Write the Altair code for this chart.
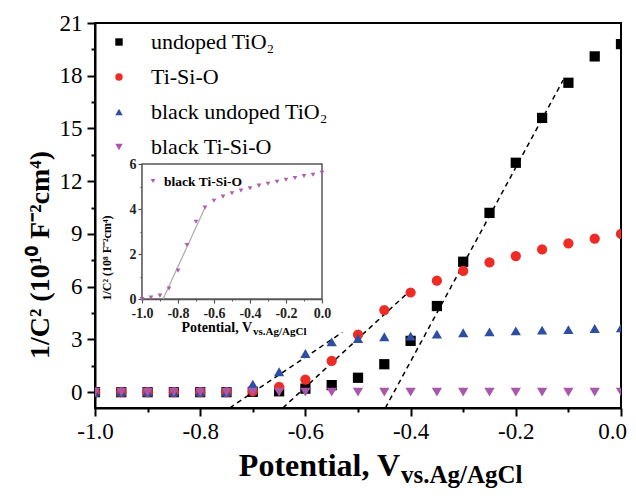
import altair as alt
import pandas as pd

# ---------------- data ----------------
potential = [-1.0, -0.95, -0.9, -0.85, -0.8, -0.75, -0.7, -0.65, -0.6, -0.55, -0.5,
             -0.45, -0.4, -0.35, -0.3, -0.25, -0.2, -0.15, -0.1, -0.05, 0.0]
undoped_tio2 = [0.0, 0.0, 0.0, 0.0, 0.0, 0.0, 0.02, 0.05, 0.2, 0.4, 0.82,
                1.59, 2.92, 4.9, 7.42, 10.2, 13.05, 15.6, 17.6, 19.1, 19.8]
ti_si_o = [0.0, 0.0, 0.0, 0.0, 0.0, 0.0, 0.05, 0.3, 0.72, 1.78, 3.28,
           4.67, 5.67, 6.34, 6.9, 7.38, 7.74, 8.12, 8.46, 8.73, 9.0]
black_undoped_tio2 = [0.0, 0.0, 0.0, 0.0, 0.0, 0.0, 0.46, 1.16, 2.2, 2.86, 3.05,
                      3.15, 3.19, 3.3, 3.38, 3.43, 3.49, 3.53, 3.56, 3.62, 3.66]
black_ti_si_o = [0.0, 0.0, 0.0, 0.0, 0.0, 0.0, 0.0, 0.0, 0.0, 0.0, 0.0,
                 0.0, 0.0, 0.0, 0.0, 0.0, 0.0, 0.0, 0.0, 0.0, 0.0]

series_names = ["undoped TiO₂", "Ti-Si-O", "black undoped TiO₂", "black Ti-Si-O"]
series_colors = ["#000000", "#ee2b24", "#2e4ea3", "#a857ab"]
series_shapes = ["square", "circle", "triangle-up", "triangle-down"]

fit_id = ["a", "a", "b", "b", "c", "c"]
fit_x = [-0.448, -0.11, -0.643, -0.40, -0.744, -0.53]
fit_y = [-0.9, 17.75, -0.9, 5.8, -0.9, 3.4]

inset_values = [0.0, 0.06, 0.15, 0.47, 1.26, 2.4, 3.43, 4.06, 4.37, 4.55, 4.7,
                4.82, 4.92, 5.04, 5.12, 5.21, 5.3, 5.38, 5.47, 5.52, 5.61]
inset_fit_x = [-0.883, -0.65]
inset_fit_y = [0.0, 4.06]

x_major = [-1.0, -0.8, -0.6, -0.4, -0.2, 0.0]
x_minor = [-0.9, -0.7, -0.5, -0.3, -0.1]
y_major = [0, 3, 6, 9, 12, 15, 18, 21]
y_minor = [1.5, 4.5, 7.5, 10.5, 13.5, 16.5, 19.5]
inset_y_major = [0, 2, 4, 6]
inset_y_minor = [1, 3, 5]

title_x_main = "Potential, V"
title_x_sub = "vs.Ag/AgCl"
title_y = "1/C² (10¹⁰ F⁻²cm⁴)"
inset_title_y = "1/C² (10⁸ F⁻²cm⁴)"
inset_legend_label = "black Ti-Si-O"

# ---------------- layout ----------------
W, H = 526, 385
FONT = "Liberation Serif"
IN_L, IN_R, IN_T, IN_B = 47, 227, 141, 276

rows = []
for name, vals in zip(series_names, [undoped_tio2, ti_si_o, black_undoped_tio2, black_ti_si_o]):
    for xv, yv in zip(potential, vals):
        rows.append({"x": xv, "y": yv, "series": name})
main_df = pd.DataFrame(rows)
fit_df = pd.DataFrame({"id": fit_id, "x": fit_x, "y": fit_y})
inset_df = pd.DataFrame({"x": potential, "y": inset_values})
inset_fit_df = pd.DataFrame({"x": inset_fit_x, "y": inset_fit_y})
frame_df = pd.DataFrame({"x0": [-1.0], "x1": [0.0], "y0": [0.0], "y1": [6.0]})

mx = alt.Scale(domain=[-1.0, 0.0], range=[0, W], nice=False, zero=False)
my = alt.Scale(domain=[-0.9, 21], range=[H, 0], nice=False, zero=False)
ix = alt.Scale(domain=[-1.0, 0.0], range=[IN_L, IN_R], nice=False, zero=False)
iy = alt.Scale(domain=[0.0, 6.0], range=[IN_B, IN_T], nice=False, zero=False)

xlabel = "datum.value < 0 ? '-' + format(-datum.value, '.1f') : format(datum.value, '.1f')"

legend = alt.Legend(title=None, orient="none", legendX=13, legendY=8, padding=0,
                    labelFont=FONT, labelFontSize=22, labelColor="black", labelLimit=0,
                    symbolSize=55, symbolStrokeWidth=0, rowPadding=13, labelOffset=21)

points = alt.Chart(main_df).mark_point(filled=True, opacity=1, clip=True).encode(
    x=alt.X("x:Q", scale=mx, axis=alt.Axis(orient="bottom", values=x_major, labelExpr=xlabel,
                                             tickSize=8, title=None, labelFlush=False,
                                             labelOverlap=False, labelPadding=4,
                                             labelOffset={"condition": {"test": "datum.value == 0", "value": -9},
                                                          "value": 0})),
    y=alt.Y("y:Q", scale=my, axis=alt.Axis(orient="left", values=y_major, format="d",
                                             tickSize=8, title=None, labelFlush=False,
                                             labelOverlap=False, labelPadding=5)),
    color=alt.Color("series:N", scale=alt.Scale(domain=series_names, range=series_colors), legend=legend),
    shape=alt.Shape("series:N", scale=alt.Scale(domain=series_names, range=series_shapes), legend=legend),
    size=alt.value(105),
)

minor = alt.Chart(pd.DataFrame({"x": [-0.5], "y": [10.0]})).mark_point(opacity=0).encode(
    x=alt.X("x:Q", scale=mx, axis=alt.Axis(orient="bottom", values=x_minor, tickSize=4,
                                             labels=False, domain=False, title=None)),
    y=alt.Y("y:Q", scale=my, axis=alt.Axis(orient="left", values=y_minor, tickSize=4,
                                             labels=False, domain=False, title=None)),
)

fits = alt.Chart(fit_df).mark_line(color="black", strokeDash=[5, 4], strokeWidth=1.5).encode(
    x=alt.X("x:Q", scale=mx, axis=None),
    y=alt.Y("y:Q", scale=my, axis=None),
    detail="id:N",
)

inset_axis_common = dict(title=None, tickColor="#555", domainColor="#555", domainWidth=1.5,
                         tickWidth=1.2, labelFont=FONT, labelFontSize=14, labelColor="#222",
                         labelFontWeight="bold", labelFlush=False, labelOverlap=False)

frame = alt.Chart(frame_df).mark_rect(fill="white", stroke="#555", strokeWidth=1.5).encode(
    x=alt.X("x0:Q", scale=ix, axis=alt.Axis(orient="bottom", offset=-(H - IN_B), values=x_major,
                                              labelExpr=xlabel, tickSize=4, labelPadding=3,
                                              **inset_axis_common)),
    x2="x1:Q",
    y=alt.Y("y0:Q", scale=iy, axis=alt.Axis(orient="left", offset=-IN_L, values=inset_y_major,
                                              format="d", tickSize=4, labelPadding=2,
                                              **inset_axis_common)),
    y2="y1:Q",
)

inset_minor = alt.Chart(pd.DataFrame({"x": [-0.5], "y": [3.0]})).mark_point(opacity=0).encode(
    x=alt.X("x:Q", scale=ix, axis=alt.Axis(orient="bottom", offset=-(H - IN_B), values=x_minor,
                                             tickSize=2, labels=False, domain=False, title=None,
                                             tickColor="#555", tickWidth=1)),
    y=alt.Y("y:Q", scale=iy, axis=alt.Axis(orient="left", offset=-IN_L, values=inset_y_minor,
                                             tickSize=2, labels=False, domain=False, title=None,
                                             tickColor="#555", tickWidth=1)),
)

inset_fit = alt.Chart(inset_fit_df).mark_line(color="#aaaaaa", strokeWidth=1.2).encode(
    x=alt.X("x:Q", scale=ix, axis=None),
    y=alt.Y("y:Q", scale=iy, axis=None),
)

inset_pts = alt.Chart(inset_df).mark_point(filled=True, shape="triangle-down", color="#b05ab0",
                                           opacity=1, size=22).encode(
    x=alt.X("x:Q", scale=ix, axis=None),
    y=alt.Y("y:Q", scale=iy, axis=None),
)


def text_mark(s, x, y, size, weight="bold", angle=0, align="left", baseline="alphabetic", color="black"):
    return alt.Chart(pd.DataFrame({"t": [s]})).mark_text(
        font=FONT, fontSize=size, fontWeight=weight, angle=angle, align=align,
        baseline=baseline, color=color).encode(
        text="t:N", x=alt.value(x), y=alt.value(y))


inset_leg_sym = alt.Chart(pd.DataFrame({"t": [inset_legend_label]})).mark_point(
    filled=True, shape="triangle-down", color="#b05ab0", opacity=1, size=22).encode(
    x=alt.value(58), y=alt.value(158))

texts = [
    text_mark(title_x_main, 305, 453, 32, align="right"),
    text_mark(title_x_sub, 306, 460, 25, align="left"),
    text_mark(title_y, -46, 232, 28, angle=270, align="center"),
    text_mark(inset_title_y, 16, 235, 12, angle=270, align="center"),
    text_mark(title_x_main, 157, 309, 14, align="right"),
    text_mark(title_x_sub, 158, 312, 11, align="left"),
    text_mark(inset_legend_label, 69, 163, 13.5),
]

chart = alt.layer(minor, fits, points, frame, inset_minor, inset_fit, inset_pts, inset_leg_sym, *texts).resolve_scale(
    x="independent", y="independent"
).properties(
    width=W, height=H,
    autosize=alt.AutoSizeParams(type="none"),
    padding={"left": 87, "top": 15, "right": 7, "bottom": 80},
).configure_view(stroke="black", strokeWidth=2).configure_axis(
    domainColor="black", domainWidth=2, tickColor="black", tickWidth=2,
    labelFont=FONT, labelFontSize=23, labelColor="black", grid=False,
).configure_legend(labelFont=FONT).configure_text(font=FONT)

chart.save("out.html", embed_options={"renderer": "svg", "actions": False})
